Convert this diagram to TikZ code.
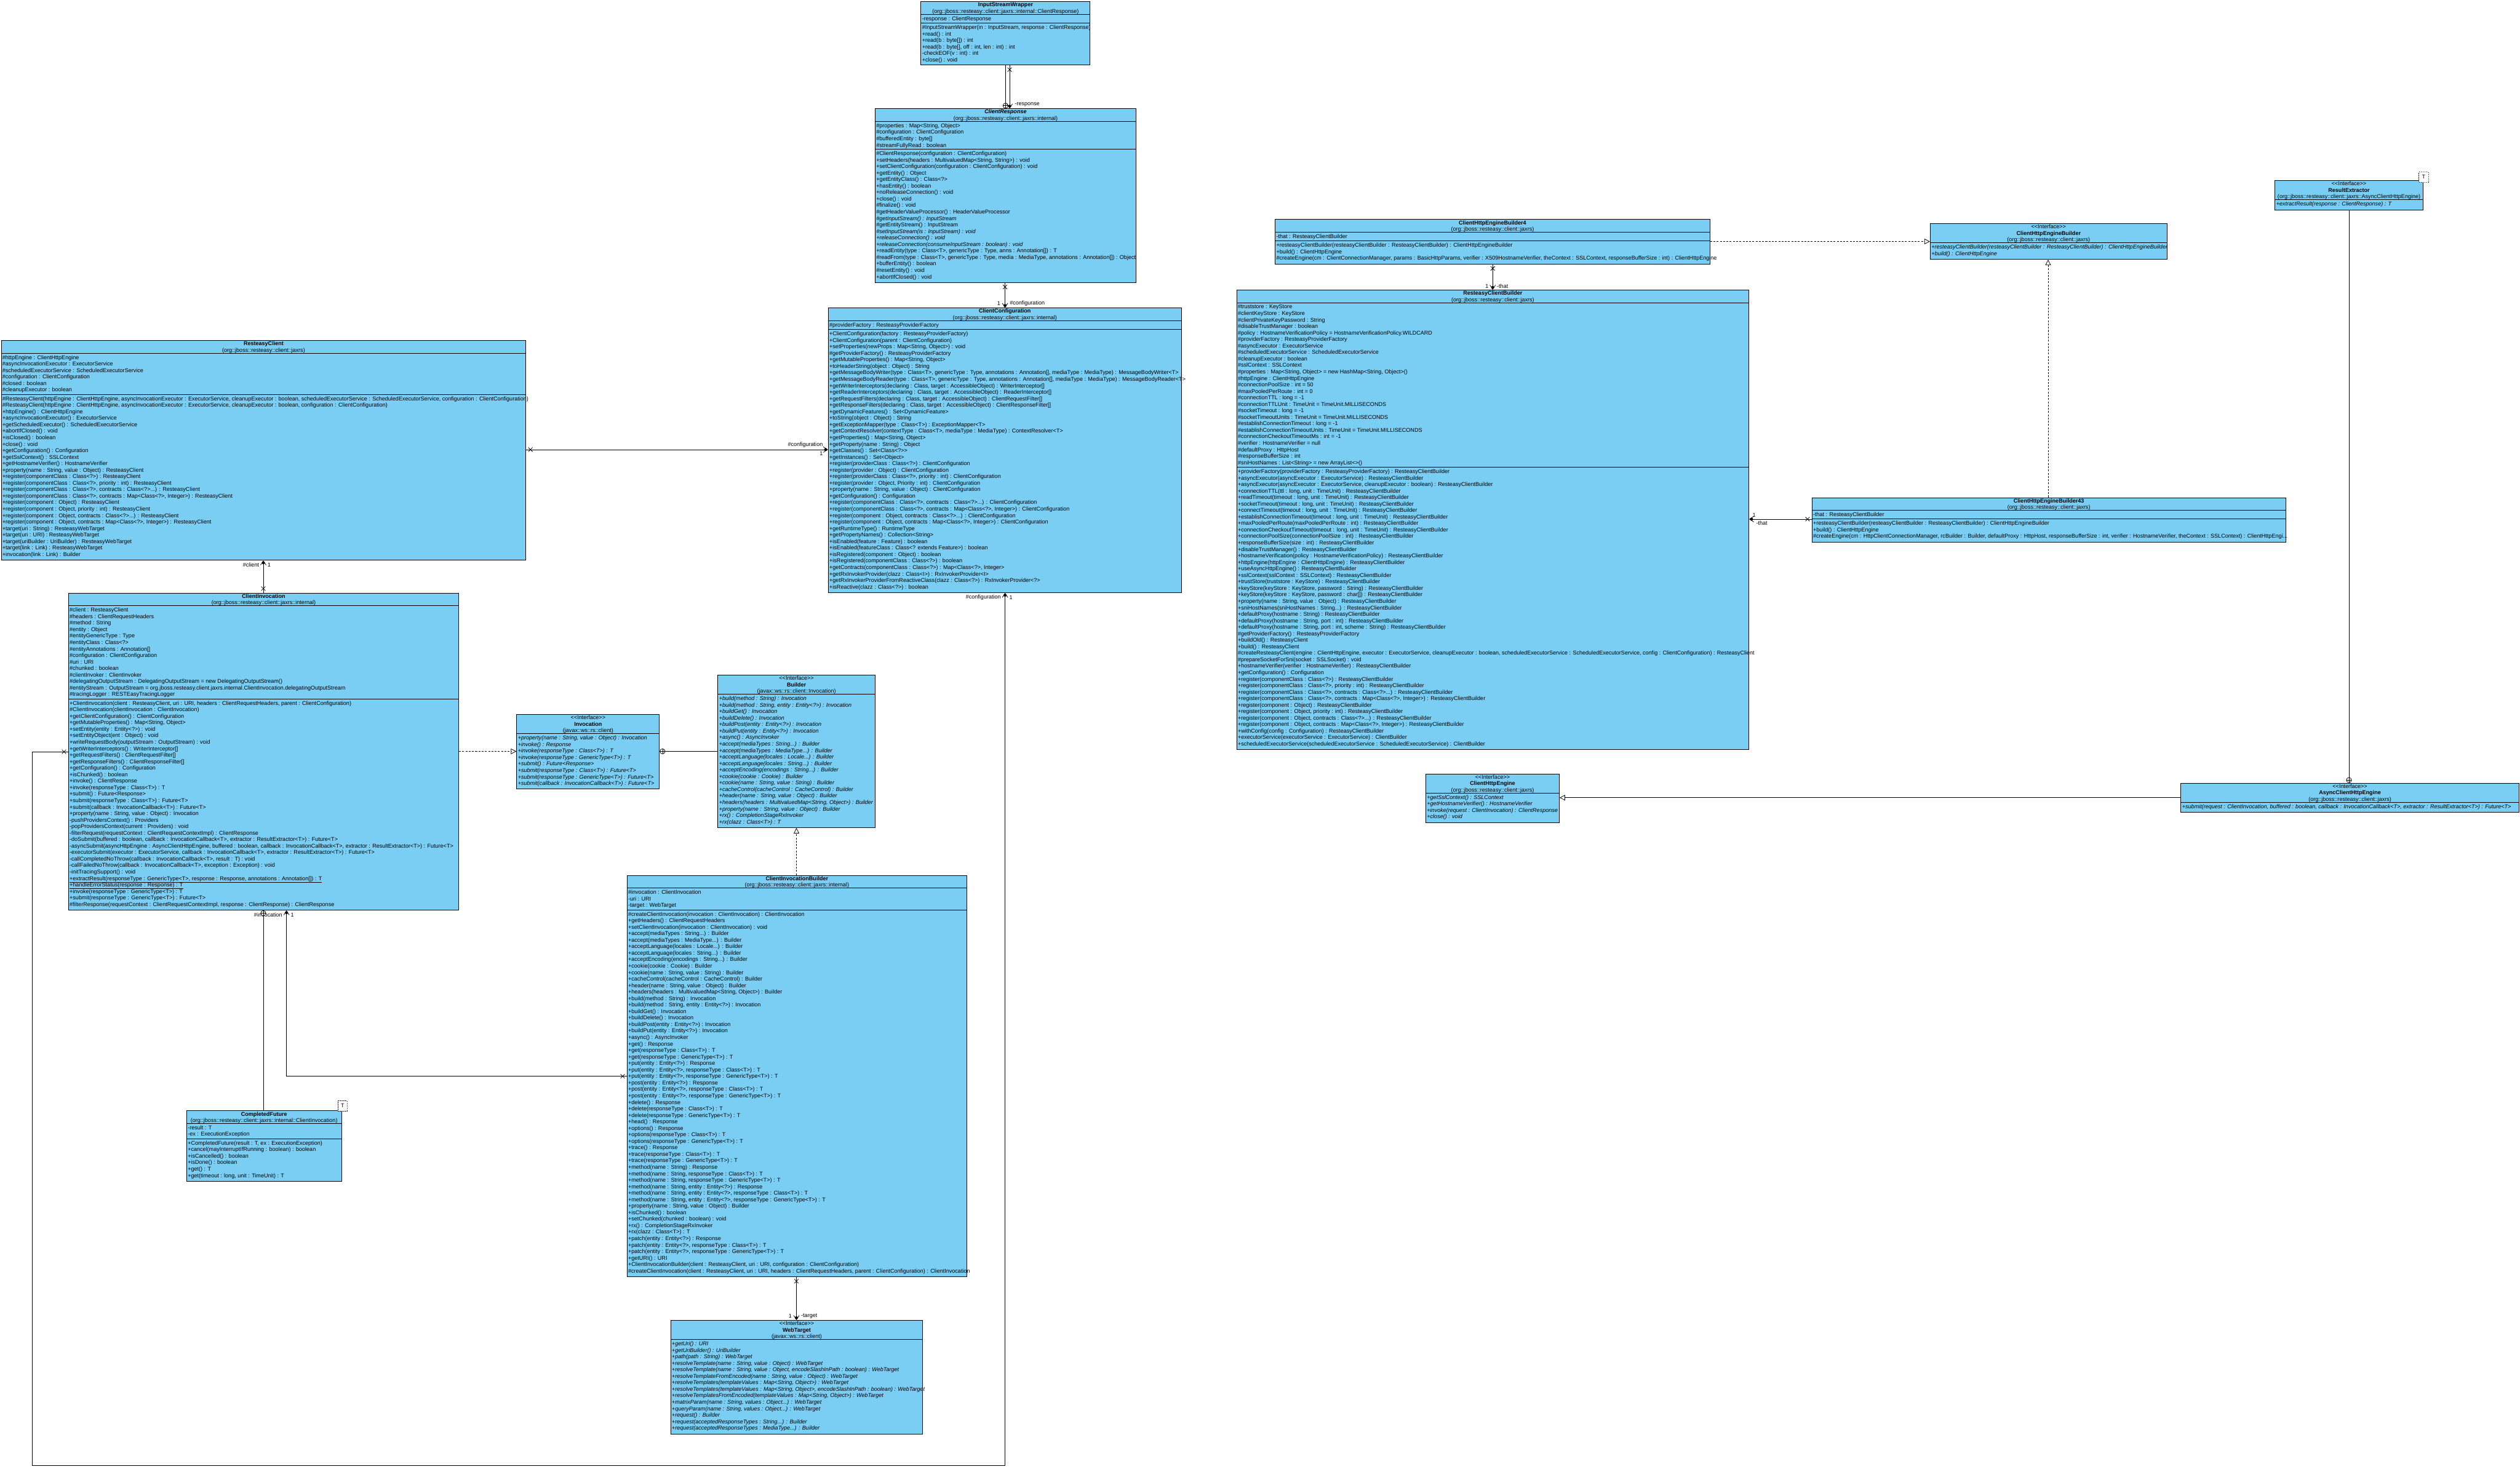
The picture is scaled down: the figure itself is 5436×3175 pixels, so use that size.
\documentclass[tikz,border=0pt]{standalone}
\usepackage{fontspec}
\newfontfamily\umlfont{Liberation Sans}
\usetikzlibrary{arrows.meta,calc}
\definecolor{umlblue}{RGB}{122,206,244}
\newcommand\umltxt{\umlfont\fontsize{12}{14}\selectfont}
\tikzset{
  cls/.style={draw=black, line width=1.2pt, fill=umlblue, inner sep=0pt, anchor=north west},
  assoc/.style={draw=black, line width=1pt},
  navarrow/.style={-{Straight Barb[length=9pt,width=12pt]}},
  realize/.style={dash pattern=on 4pt off 3pt, -{Triangle[open,length=12pt,width=12pt]}},
  generalize/.style={-{Triangle[open,length=12pt,width=12pt]}},
  lbl/.style={font=\umltxt, inner sep=1pt},
  pics/nestplus/.style={code={\draw[fill=white,line width=1pt] (0,0) circle (5.5pt); \draw[line width=1pt] (-5.5,0)--(5.5,0) (0,-5.5)--(0,5.5);}},
  pics/xmark/.style={code={\draw[line width=1pt] (-4.5,-4.5)--(4.5,4.5) (-4.5,4.5)--(4.5,-4.5);}},
  pics/owndot/.style={code={\fill (0,0) circle (3.2pt);}},
}
\newcommand\umlbox[5]{\node[cls, minimum width=#4pt, minimum height=#5pt] (#1) at (#2,#3) {};}
\newcommand\umlsep[2]{\draw[line width=1.2pt] ($(#1.north west)+(0,#2)$) -- ($(#1.north east)+(0,#2)$);}
\newcommand\umlhead[2]{\node[anchor=north, inner sep=0pt, align=center, font=\umltxt] (#1h) at ($(#1.north)+(0,1.3)$) {\rule{0pt}{10pt}#2};}
\newcommand\umltext[4]{\node[anchor=north west, inner sep=0pt, align=left, font=\umltxt] (#1#4) at ($(#1.north west)+(3,#2+3)$) {\rule{0pt}{10pt}#3};}
\newcommand\umltextit[4]{\node[anchor=north west, inner sep=0pt, align=left, font=\umltxt\itshape] (#1#4) at ($(#1.north west)+(3,#2+3)$) {\rule{0pt}{10pt}#3};}
\begin{document}
\begin{tikzpicture}[x=1pt,y=-1pt]
\fill[white] (0,0) rectangle (5436,3175);
\useasboundingbox (0,0) rectangle (5436,3175);

% ---------- InputStreamWrapper
\umlbox{isw}{1986}{3}{365}{137}
\umlsep{isw}{28}\umlsep{isw}{47}
\umlhead{isw}{\textbf{InputStreamWrapper}\\(org::jboss::resteasy::client::jaxrs::internal::ClientResponse)}
\umltext{isw}{28}{-response : ClientResponse}{a}
\umltext{isw}{47}{\#InputStreamWrapper(in : InputStream, response : ClientResponse)\\
+read() : int\\
+read(b : byte[]) : int\\
+read(b : byte[], off : int, len : int) : int\\
-checkEOF(v : int) : int\\
+close() : void}{m}

% ---------- ClientResponse
\umlbox{cr}{1887}{234}{563}{375}
\umlsep{cr}{28}\umlsep{cr}{88}
\umlhead{cr}{\textbf{\textit{ClientResponse}}\\(org::jboss::resteasy::client::jaxrs::internal)}
\umltext{cr}{28}{\#properties : Map<String, Object>\\
\#configuration : ClientConfiguration\\
\#bufferedEntity : byte[]\\
\#streamFullyRead : boolean}{a}
\umltext{cr}{88}{\#ClientResponse(configuration : ClientConfiguration)\\
+setHeaders(headers : MultivaluedMap<String, String>) : void\\
+setClientConfiguration(configuration : ClientConfiguration) : void\\
+getEntity() : Object\\
+getEntityClass() : Class<?>\\
+hasEntity() : boolean\\
+noReleaseConnection() : void\\
+close() : void\\
\#finalize() : void\\
\#getHeaderValueProcessor() : HeaderValueProcessor\\
\textit{\#getInputStream() : InputStream}\\
\#getEntityStream() : InputStream\\
\textit{\#setInputStream(is : InputStream) : void}\\
\textit{+releaseConnection() : void}\\
\textit{+releaseConnection(consumeInputStream : boolean) : void}\\
+readEntity(type : Class<T>, genericType : Type, anns : Annotation[]) : T\\
\#readFrom(type : Class<T>, genericType : Type, media : MediaType, annotations : Annotation[]) : Object\\
+bufferEntity() : boolean\\
\#resetEntity() : void\\
+abortIfClosed() : void}{m}

% ---------- ClientConfiguration
\umlbox{cc}{1786}{664}{762}{614}
\umlsep{cc}{28}\umlsep{cc}{47}
\umlhead{cc}{\textbf{ClientConfiguration}\\(org::jboss::resteasy::client::jaxrs::internal)}
\umltext{cc}{28}{\#providerFactory : ResteasyProviderFactory}{a}
\umltext{cc}{47}{+ClientConfiguration(factory : ResteasyProviderFactory)\\
+ClientConfiguration(parent : ClientConfiguration)\\
+setProperties(newProps : Map<String, Object>) : void\\
\#getProviderFactory() : ResteasyProviderFactory\\
+getMutableProperties() : Map<String, Object>\\
+toHeaderString(object : Object) : String\\
+getMessageBodyWriter(type : Class<T>, genericType : Type, annotations : Annotation[], mediaType : MediaType) : MessageBodyWriter<T>\\
+getMessageBodyReader(type : Class<T>, genericType : Type, annotations : Annotation[], mediaType : MediaType) : MessageBodyReader<T>\\
+getWriterInterceptors(declaring : Class, target : AccessibleObject) : WriterInterceptor[]\\
+getReaderInterceptors(declaring : Class, target : AccessibleObject) : ReaderInterceptor[]\\
+getRequestFilters(declaring : Class, target : AccessibleObject) : ClientRequestFilter[]\\
+getResponseFilters(declaring : Class, target : AccessibleObject) : ClientResponseFilter[]\\
+getDynamicFeatures() : Set<DynamicFeature>\\
+toString(object : Object) : String\\
+getExceptionMapper(type : Class<T>) : ExceptionMapper<T>\\
+getContextResolver(contextType : Class<T>, mediaType : MediaType) : ContextResolver<T>\\
+getProperties() : Map<String, Object>\\
+getProperty(name : String) : Object\\
+getClasses() : Set<Class<?>>\\
+getInstances() : Set<Object>\\
+register(providerClass : Class<?>) : ClientConfiguration\\
+register(provider : Object) : ClientConfiguration\\
+register(providerClass : Class<?>, priority : int) : ClientConfiguration\\
+register(provider : Object, Priority : int) : ClientConfiguration\\
+property(name : String, value : Object) : ClientConfiguration\\
+getConfiguration() : Configuration\\
+register(componentClass : Class<?>, contracts : Class<?>...) : ClientConfiguration\\
+register(componentClass : Class<?>, contracts : Map<Class<?>, Integer>) : ClientConfiguration\\
+register(component : Object, contracts : Class<?>...) : ClientConfiguration\\
+register(component : Object, contracts : Map<Class<?>, Integer>) : ClientConfiguration\\
+getRuntimeType() : RuntimeType\\
+getPropertyNames() : Collection<String>\\
+isEnabled(feature : Feature) : boolean\\
+isEnabled(featureClass : Class<? extends Feature>) : boolean\\
+isRegistered(component : Object) : boolean\\
+isRegistered(componentClass : Class<?>) : boolean\\
+getContracts(componentClass : Class<?>) : Map<Class<?>, Integer>\\
+getRxInvokerProvider(clazz : Class<I>) : RxInvokerProvider<I>\\
+getRxInvokerProviderFromReactiveClass(clazz : Class<?>) : RxInvokerProvider<?>\\
+isReactive(clazz : Class<?>) : boolean}{m}

% ---------- ResteasyClient
\umlbox{rc}{2}{734}{1132}{474}
\umlsep{rc}{28}\umlsep{rc}{117}
\umlhead{rc}{\textbf{ResteasyClient}\\(org::jboss::resteasy::client::jaxrs)}
\umltext{rc}{28}{\#httpEngine : ClientHttpEngine\\
\#asyncInvocationExecutor : ExecutorService\\
\#scheduledExecutorService : ScheduledExecutorService\\
\#configuration : ClientConfiguration\\
\#closed : boolean\\
\#cleanupExecutor : boolean}{a}
\umltext{rc}{117}{\#ResteasyClient(httpEngine : ClientHttpEngine, asyncInvocationExecutor : ExecutorService, cleanupExecutor : boolean, scheduledExecutorService : ScheduledExecutorService, configuration : ClientConfiguration)\\
\#ResteasyClient(httpEngine : ClientHttpEngine, asyncInvocationExecutor : ExecutorService, cleanupExecutor : boolean, configuration : ClientConfiguration)\\
+httpEngine() : ClientHttpEngine\\
+asyncInvocationExecutor() : ExecutorService\\
+getScheduledExecutor() : ScheduledExecutorService\\
+abortIfClosed() : void\\
+isClosed() : boolean\\
+close() : void\\
+getConfiguration() : Configuration\\
+getSslContext() : SSLContext\\
+getHostnameVerifier() : HostnameVerifier\\
+property(name : String, value : Object) : ResteasyClient\\
+register(componentClass : Class<?>) : ResteasyClient\\
+register(componentClass : Class<?>, priority : int) : ResteasyClient\\
+register(componentClass : Class<?>, contracts : Class<?>...) : ResteasyClient\\
+register(componentClass : Class<?>, contracts : Map<Class<?>, Integer>) : ResteasyClient\\
+register(component : Object) : ResteasyClient\\
+register(component : Object, priority : int) : ResteasyClient\\
+register(component : Object, contracts : Class<?>...) : ResteasyClient\\
+register(component : Object, contracts : Map<Class<?>, Integer>) : ResteasyClient\\
+target(uri : String) : ResteasyWebTarget\\
+target(uri : URI) : ResteasyWebTarget\\
+target(uriBuilder : UriBuilder) : ResteasyWebTarget\\
+target(link : Link) : ResteasyWebTarget\\
+invocation(link : Link) : Builder}{m}

% ---------- ClientInvocation
\umlbox{ci}{147}{1279}{842}{684}
\umlsep{ci}{28}\umlsep{ci}{229}
\umlhead{ci}{\textbf{ClientInvocation}\\(org::jboss::resteasy::client::jaxrs::internal)}
\umltext{ci}{28}{\#client : ResteasyClient\\
\#headers : ClientRequestHeaders\\
\#method : String\\
\#entity : Object\\
\#entityGenericType : Type\\
\#entityClass : Class<?>\\
\#entityAnnotations : Annotation[]\\
\#configuration : ClientConfiguration\\
\#uri : URI\\
\#chunked : boolean\\
\#clientInvoker : ClientInvoker\\
\#delegatingOutputStream : DelegatingOutputStream = new DelegatingOutputStream()\\
\#entityStream : OutputStream = org.jboss.resteasy.client.jaxrs.internal.ClientInvocation.delegatingOutputStream\\
\#tracingLogger : RESTEasyTracingLogger}{a}
\umltext{ci}{229}{+ClientInvocation(client : ResteasyClient, uri : URI, headers : ClientRequestHeaders, parent : ClientConfiguration)\\
\#ClientInvocation(clientInvocation : ClientInvocation)\\
+getClientConfiguration() : ClientConfiguration\\
+getMutableProperties() : Map<String, Object>\\
+setEntity(entity : Entity<?>) : void\\
+setEntityObject(ent : Object) : void\\
+writeRequestBody(outputStream : OutputStream) : void\\
+getWriterInterceptors() : WriterInterceptor[]\\
+getRequestFilters() : ClientRequestFilter[]\\
+getResponseFilters() : ClientResponseFilter[]\\
+getConfiguration() : Configuration\\
+isChunked() : boolean\\
+invoke() : ClientResponse\\
+invoke(responseType : Class<T>) : T\\
+submit() : Future<Response>\\
+submit(responseType : Class<T>) : Future<T>\\
+submit(callback : InvocationCallback<T>) : Future<T>\\
+property(name : String, value : Object) : Invocation\\
-pushProvidersContext() : Providers\\
-popProvidersContext(current : Providers) : void\\
-filterRequest(requestContext : ClientRequestContextImpl) : ClientResponse\\
-doSubmit(buffered : boolean, callback : InvocationCallback<T>, extractor : ResultExtractor<T>) : Future<T>\\
-asyncSubmit(asyncHttpEngine : AsyncClientHttpEngine, buffered : boolean, callback : InvocationCallback<T>, extractor : ResultExtractor<T>) : Future<T>\\
-executorSubmit(executor : ExecutorService, callback : InvocationCallback<T>, extractor : ResultExtractor<T>) : Future<T>\\
-callCompletedNoThrow(callback : InvocationCallback<T>, result : T) : void\\
-callFailedNoThrow(callback : InvocationCallback<T>, exception : Exception) : void\\
-initTracingSupport() : void\\
\underline{+extractResult(responseType : GenericType<T>, response : Response, annotations : Annotation[]) : T}\\
\underline{+handleErrorStatus(response : Response) : T}\\
+invoke(responseType : GenericType<T>) : T\\
+submit(responseType : GenericType<T>) : Future<T>\\
\#filterResponse(requestContext : ClientRequestContextImpl, response : ClientResponse) : ClientResponse}{m}

% ---------- Invocation
\umlbox{inv}{1114}{1541}{308}{161}
\umlsep{inv}{42}
\umlhead{inv}{<{}<Interface>{}>\\\textbf{Invocation}\\(javax::ws::rs::client)}
\umltextit{inv}{42}{+property(name : String, value : Object) : Invocation\\
+invoke() : Response\\
+invoke(responseType : Class<T>) : T\\
+invoke(responseType : GenericType<T>) : T\\
+submit() : Future<Response>\\
+submit(responseType : Class<T>) : Future<T>\\
+submit(responseType : GenericType<T>) : Future<T>\\
+submit(callback : InvocationCallback<T>) : Future<T>}{m}

% ---------- Builder
\umlbox{bld}{1548}{1456}{339}{329}
\umlsep{bld}{42}
\umlhead{bld}{<{}<Interface>{}>\\\textbf{Builder}\\(javax::ws::rs::client::Invocation)}
\umltextit{bld}{42}{+build(method : String) : Invocation\\
+build(method : String, entity : Entity<?>) : Invocation\\
+buildGet() : Invocation\\
+buildDelete() : Invocation\\
+buildPost(entity : Entity<?>) : Invocation\\
+buildPut(entity : Entity<?>) : Invocation\\
+async() : AsyncInvoker\\
+accept(mediaTypes : String...) : Builder\\
+accept(mediaTypes : MediaType...) : Builder\\
+acceptLanguage(locales : Locale...) : Builder\\
+acceptLanguage(locales : String...) : Builder\\
+acceptEncoding(encodings : String...) : Builder\\
+cookie(cookie : Cookie) : Builder\\
+cookie(name : String, value : String) : Builder\\
+cacheControl(cacheControl : CacheControl) : Builder\\
+header(name : String, value : Object) : Builder\\
+headers(headers : MultivaluedMap<String, Object>) : Builder\\
+property(name : String, value : Object) : Builder\\
+rx() : CompletionStageRxInvoker\\
+rx(clazz : Class<T>) : T}{m}

% ---------- ClientInvocationBuilder
\umlbox{cib}{1352}{1888}{733}{866}
\umlsep{cib}{28}\umlsep{cib}{75}
\umlhead{cib}{\textbf{ClientInvocationBuilder}\\(org::jboss::resteasy::client::jaxrs::internal)}
\umltext{cib}{28}{\#invocation : ClientInvocation\\
-uri : URI\\
-target : WebTarget}{a}
\umltext{cib}{75}{\#createClientInvocation(invocation : ClientInvocation) : ClientInvocation\\
+getHeaders() : ClientRequestHeaders\\
+setClientInvocation(invocation : ClientInvocation) : void\\
+accept(mediaTypes : String...) : Builder\\
+accept(mediaTypes : MediaType...) : Builder\\
+acceptLanguage(locales : Locale...) : Builder\\
+acceptLanguage(locales : String...) : Builder\\
+acceptEncoding(encodings : String...) : Builder\\
+cookie(cookie : Cookie) : Builder\\
+cookie(name : String, value : String) : Builder\\
+cacheControl(cacheControl : CacheControl) : Builder\\
+header(name : String, value : Object) : Builder\\
+headers(headers : MultivaluedMap<String, Object>) : Builder\\
+build(method : String) : Invocation\\
+build(method : String, entity : Entity<?>) : Invocation\\
+buildGet() : Invocation\\
+buildDelete() : Invocation\\
+buildPost(entity : Entity<?>) : Invocation\\
+buildPut(entity : Entity<?>) : Invocation\\
+async() : AsyncInvoker\\
+get() : Response\\
+get(responseType : Class<T>) : T\\
+get(responseType : GenericType<T>) : T\\
+put(entity : Entity<?>) : Response\\
+put(entity : Entity<?>, responseType : Class<T>) : T\\
+put(entity : Entity<?>, responseType : GenericType<T>) : T\\
+post(entity : Entity<?>) : Response\\
+post(entity : Entity<?>, responseType : Class<T>) : T\\
+post(entity : Entity<?>, responseType : GenericType<T>) : T\\
+delete() : Response\\
+delete(responseType : Class<T>) : T\\
+delete(responseType : GenericType<T>) : T\\
+head() : Response\\
+options() : Response\\
+options(responseType : Class<T>) : T\\
+options(responseType : GenericType<T>) : T\\
+trace() : Response\\
+trace(responseType : Class<T>) : T\\
+trace(responseType : GenericType<T>) : T\\
+method(name : String) : Response\\
+method(name : String, responseType : Class<T>) : T\\
+method(name : String, responseType : GenericType<T>) : T\\
+method(name : String, entity : Entity<?>) : Response\\
+method(name : String, entity : Entity<?>, responseType : Class<T>) : T\\
+method(name : String, entity : Entity<?>, responseType : GenericType<T>) : T\\
+property(name : String, value : Object) : Builder\\
+isChunked() : boolean\\
+setChunked(chunked : boolean) : void\\
+rx() : CompletionStageRxInvoker\\
+rx(clazz : Class<T>) : T\\
+patch(entity : Entity<?>) : Response\\
+patch(entity : Entity<?>, responseType : Class<T>) : T\\
+patch(entity : Entity<?>, responseType : GenericType<T>) : T\\
+getURI() : URI\\
+ClientInvocationBuilder(client : ResteasyClient, uri : URI, configuration : ClientConfiguration)\\
\#createClientInvocation(client : ResteasyClient, uri : URI, headers : ClientRequestHeaders, parent : ClientConfiguration) : ClientInvocation}{m}

% ---------- WebTarget
\umlbox{wt}{1446}{2848}{544}{245}
\umlsep{wt}{42}
\umlhead{wt}{<{}<Interface>{}>\\\textbf{WebTarget}\\(javax::ws::rs::client)}
\umltextit{wt}{42}{+getUri() : URI\\
+getUriBuilder() : UriBuilder\\
+path(path : String) : WebTarget\\
+resolveTemplate(name : String, value : Object) : WebTarget\\
+resolveTemplate(name : String, value : Object, encodeSlashInPath : boolean) : WebTarget\\
+resolveTemplateFromEncoded(name : String, value : Object) : WebTarget\\
+resolveTemplates(templateValues : Map<String, Object>) : WebTarget\\
+resolveTemplates(templateValues : Map<String, Object>, encodeSlashInPath : boolean) : WebTarget\\
+resolveTemplatesFromEncoded(templateValues : Map<String, Object>) : WebTarget\\
+matrixParam(name : String, values : Object...) : WebTarget\\
+queryParam(name : String, values : Object...) : WebTarget\\
+request() : Builder\\
+request(acceptedResponseTypes : String...) : Builder\\
+request(acceptedResponseTypes : MediaType...) : Builder}{m}

% ---------- CompletedFuture
\umlbox{cf}{402}{2396}{334}{152}
\umlsep{cf}{28}\umlsep{cf}{61}
\umlhead{cf}{\textbf{CompletedFuture}\\(org::jboss::resteasy::client::jaxrs::internal::ClientInvocation)}
\umltext{cf}{28}{-result : T\\
-ex : ExecutionException}{a}
\umltext{cf}{61}{+CompletedFuture(result : T, ex : ExecutionException)\\
+cancel(mayInterruptIfRunning : boolean) : boolean\\
+isCancelled() : boolean\\
+isDone() : boolean\\
+get() : T\\
+get(timeout : long, unit : TimeUnit) : T}{m}
\node[draw, dash pattern=on 2pt off 2pt, fill=white, line width=0.8pt, minimum width=20pt, minimum height=22pt, inner sep=0pt, font=\umltxt] (cftpl) at (739,2386) {T};

% ---------- ClientHttpEngineBuilder4
\umlbox{cheb4}{2750}{473}{938}{96}
\umlsep{cheb4}{28}\umlsep{cheb4}{47}
\umlhead{cheb4}{\textbf{ClientHttpEngineBuilder4}\\(org::jboss::resteasy::client::jaxrs)}
\umltext{cheb4}{28}{-that : ResteasyClientBuilder}{a}
\umltext{cheb4}{47}{+resteasyClientBuilder(resteasyClientBuilder : ResteasyClientBuilder) : ClientHttpEngineBuilder\\
+build() : ClientHttpEngine\\
\#createEngine(cm : ClientConnectionManager, params : BasicHttpParams, verifier : X509HostnameVerifier, theContext : SSLContext, responseBufferSize : int) : ClientHttpEngine}{m}

% ---------- ClientHttpEngineBuilder (interface)
\umlbox{cheb}{4163}{482}{511}{77}
\umlsep{cheb}{42}
\umlhead{cheb}{<{}<Interface>{}>\\\textbf{ClientHttpEngineBuilder}\\(org::jboss::resteasy::client::jaxrs)}
\umltextit{cheb}{42}{+resteasyClientBuilder(resteasyClientBuilder : ResteasyClientBuilder) : ClientHttpEngineBuilder\\
+build() : ClientHttpEngine}{m}

% ---------- ResultExtractor
\umlbox{re}{4907}{389}{319}{63}
\umlsep{re}{42}
\umlhead{re}{<{}<Interface>{}>\\\textbf{ResultExtractor}\\(org::jboss::resteasy::client::jaxrs::AsyncClientHttpEngine)}
\umltextit{re}{42}{+extractResult(response : ClientResponse) : T}{m}
\node[draw, dash pattern=on 2pt off 2pt, fill=white, line width=0.8pt, minimum width=20pt, minimum height=22pt, inner sep=0pt, font=\umltxt] (retpl) at (5228,382) {T};

% ---------- ResteasyClientBuilder
\umlbox{rcb}{2667}{625}{1105}{992}
\umlsep{rcb}{28}\umlsep{rcb}{383}
\umlhead{rcb}{\textbf{ResteasyClientBuilder}\\(org::jboss::resteasy::client::jaxrs)}
\umltext{rcb}{28}{\#truststore : KeyStore\\
\#clientKeyStore : KeyStore\\
\#clientPrivateKeyPassword : String\\
\#disableTrustManager : boolean\\
\#policy : HostnameVerificationPolicy = HostnameVerificationPolicy.WILDCARD\\
\#providerFactory : ResteasyProviderFactory\\
\#asyncExecutor : ExecutorService\\
\#scheduledExecutorService : ScheduledExecutorService\\
\#cleanupExecutor : boolean\\
\#sslContext : SSLContext\\
\#properties : Map<String, Object> = new HashMap<String, Object>()\\
\#httpEngine : ClientHttpEngine\\
\#connectionPoolSize : int = 50\\
\#maxPooledPerRoute : int = 0\\
\#connectionTTL : long = -1\\
\#connectionTTLUnit : TimeUnit = TimeUnit.MILLISECONDS\\
\#socketTimeout : long = -1\\
\#socketTimeoutUnits : TimeUnit = TimeUnit.MILLISECONDS\\
\#establishConnectionTimeout : long = -1\\
\#establishConnectionTimeoutUnits : TimeUnit = TimeUnit.MILLISECONDS\\
\#connectionCheckoutTimeoutMs : int = -1\\
\#verifier : HostnameVerifier = null\\
\#defaultProxy : HttpHost\\
\#responseBufferSize : int\\
\#sniHostNames : List<String> = new ArrayList<>()}{a}
\umltext{rcb}{383}{+providerFactory(providerFactory : ResteasyProviderFactory) : ResteasyClientBuilder\\
+asyncExecutor(asyncExecutor : ExecutorService) : ResteasyClientBuilder\\
+asyncExecutor(asyncExecutor : ExecutorService, cleanupExecutor : boolean) : ResteasyClientBuilder\\
+connectionTTL(ttl : long, unit : TimeUnit) : ResteasyClientBuilder\\
+readTimeout(timeout : long, unit : TimeUnit) : ResteasyClientBuilder\\
+socketTimeout(timeout : long, unit : TimeUnit) : ResteasyClientBuilder\\
+connectTimeout(timeout : long, unit : TimeUnit) : ResteasyClientBuilder\\
+establishConnectionTimeout(timeout : long, unit : TimeUnit) : ResteasyClientBuilder\\
+maxPooledPerRoute(maxPooledPerRoute : int) : ResteasyClientBuilder\\
+connectionCheckoutTimeout(timeout : long, unit : TimeUnit) : ResteasyClientBuilder\\
+connectionPoolSize(connectionPoolSize : int) : ResteasyClientBuilder\\
+responseBufferSize(size : int) : ResteasyClientBuilder\\
+disableTrustManager() : ResteasyClientBuilder\\
+hostnameVerification(policy : HostnameVerificationPolicy) : ResteasyClientBuilder\\
+httpEngine(httpEngine : ClientHttpEngine) : ResteasyClientBuilder\\
+useAsyncHttpEngine() : ResteasyClientBuilder\\
+sslContext(sslContext : SSLContext) : ResteasyClientBuilder\\
+trustStore(truststore : KeyStore) : ResteasyClientBuilder\\
+keyStore(keyStore : KeyStore, password : String) : ResteasyClientBuilder\\
+keyStore(keyStore : KeyStore, password : char[]) : ResteasyClientBuilder\\
+property(name : String, value : Object) : ResteasyClientBuilder\\
+sniHostNames(sniHostNames : String...) : ResteasyClientBuilder\\
+defaultProxy(hostname : String) : ResteasyClientBuilder\\
+defaultProxy(hostname : String, port : int) : ResteasyClientBuilder\\
+defaultProxy(hostname : String, port : int, scheme : String) : ResteasyClientBuilder\\
\#getProviderFactory() : ResteasyProviderFactory\\
+buildOld() : ResteasyClient\\
+build() : ResteasyClient\\
\#createResteasyClient(engine : ClientHttpEngine, executor : ExecutorService, cleanupExecutor : boolean, scheduledExecutorService : ScheduledExecutorService, config : ClientConfiguration) : ResteasyClient\\
\#prepareSocketForSni(socket : SSLSocket) : void\\
+hostnameVerifier(verifier : HostnameVerifier) : ResteasyClientBuilder\\
+getConfiguration() : Configuration\\
+register(componentClass : Class<?>) : ResteasyClientBuilder\\
+register(componentClass : Class<?>, priority : int) : ResteasyClientBuilder\\
+register(componentClass : Class<?>, contracts : Class<?>...) : ResteasyClientBuilder\\
+register(componentClass : Class<?>, contracts : Map<Class<?>, Integer>) : ResteasyClientBuilder\\
+register(component : Object) : ResteasyClientBuilder\\
+register(component : Object, priority : int) : ResteasyClientBuilder\\
+register(component : Object, contracts : Class<?>...) : ResteasyClientBuilder\\
+register(component : Object, contracts : Map<Class<?>, Integer>) : ResteasyClientBuilder\\
+withConfig(config : Configuration) : ResteasyClientBuilder\\
+executorService(executorService : ExecutorService) : ClientBuilder\\
+scheduledExecutorService(scheduledExecutorService : ScheduledExecutorService) : ClientBuilder}{m}

% ---------- ClientHttpEngineBuilder43
\umlbox{cheb43}{3908}{1073}{1022}{96}
\umlsep{cheb43}{28}\umlsep{cheb43}{47}
\umlhead{cheb43}{\textbf{ClientHttpEngineBuilder43}\\(org::jboss::resteasy::client::jaxrs)}
\umltext{cheb43}{28}{-that : ResteasyClientBuilder}{a}
\umltext{cheb43}{47}{+resteasyClientBuilder(resteasyClientBuilder : ResteasyClientBuilder) : ClientHttpEngineBuilder\\
+build() : ClientHttpEngine\\
\#createEngine(cm : HttpClientConnectionManager, rcBuilder : Builder, defaultProxy : HttpHost, responseBufferSize : int, verifier : HostnameVerifier, theContext : SSLContext) : ClientHttpEngi...}{m}

% ---------- ClientHttpEngine
\umlbox{che}{3075}{1669}{288}{105}
\umlsep{che}{42}
\umlhead{che}{<{}<Interface>{}>\\\textbf{ClientHttpEngine}\\(org::jboss::resteasy::client::jaxrs)}
\umltextit{che}{42}{+getSslContext() : SSLContext\\
+getHostnameVerifier() : HostnameVerifier\\
+invoke(request : ClientInvocation) : ClientResponse\\
+close() : void}{m}

% ---------- AsyncClientHttpEngine
\umlbox{async}{4704}{1689}{729}{63}
\umlsep{async}{42}
\umlhead{async}{<{}<Interface>{}>\\\textbf{AsyncClientHttpEngine}\\(org::jboss::resteasy::client::jaxrs)}
\umltextit{async}{42}{+submit(request : ClientInvocation, buffered : boolean, callback : InvocationCallback<T>, extractor : ResultExtractor<T>) : Future<T>}{m}

% ================= connectors
\coordinate (vA) at (2169,0);
\coordinate (vB) at (2178,0);
\coordinate (vC) at (2168,0);
\coordinate (vD) at (568,0);
\coordinate (vE) at (69,0);
\coordinate (vF) at (1718,0);
\coordinate (vG) at (618,0);
\coordinate (vH) at (3220,0);
\coordinate (vI) at (4418,0);
\coordinate (vJ) at (5067,0);
\coordinate (hA) at (0,970);
\coordinate (hB) at (0,3162);
\coordinate (hC) at (0,1622);
\coordinate (hD) at (0,1621);
\coordinate (hE) at (0,2322);
\coordinate (hF) at (0,1120);
\coordinate (hG) at (0,521);
\coordinate (hH) at (0,1721);

% InputStreamWrapper nested in ClientResponse
\draw[assoc] (isw.south -| vA) -- (cr.north -| vA);
\pic at ($(cr.north -| vA)+(0,-6)$) {nestplus};
% InputStreamWrapper -response
\draw[assoc,navarrow] (isw.south -| vB) -- (cr.north -| vB);
\pic at ($(isw.south -| vB)+(0,9)$) {xmark};
\pic at ($(cr.north -| vB)+(0,-5)$) {owndot};
\node[lbl, anchor=west] (l1) at ($(cr.north -| vB)+(10,-9)$) {-response};

% ClientResponse #configuration
\draw[assoc,navarrow] (cr.south -| vC) -- (cc.north -| vC);
\pic at ($(cr.south -| vC)+(0,9)$) {xmark};
\pic at ($(cc.north -| vC)+(0,-5)$) {owndot};
\node[lbl, anchor=east] (l2) at ($(cc.north -| vC)+(-9,-9)$) {1};
\node[lbl, anchor=west] (l3) at ($(cc.north -| vC)+(9,-9)$) {\#configuration};

% ResteasyClient #configuration
\draw[assoc,navarrow] (rc.east |- hA) -- (cc.west |- hA);
\pic at ($(rc.east |- hA)+(9,0)$) {xmark};
\pic at ($(cc.west |- hA)+(-5,0)$) {owndot};
\node[lbl, anchor=south east] (l4) at ($(cc.west |- hA)+(-10,-3)$) {\#configuration};
\node[lbl, anchor=north east] (l5) at ($(cc.west |- hA)+(-10,3)$) {1};

% ClientInvocation #client
\draw[assoc,navarrow] (ci.north -| vD) -- (rc.south -| vD);
\pic at ($(ci.north -| vD)+(0,-9)$) {xmark};
\pic at ($(rc.south -| vD)+(0,5)$) {owndot};
\node[lbl, anchor=east] (l6) at ($(rc.south -| vD)+(-8,10)$) {\#client};
\node[lbl, anchor=west] (l7) at ($(rc.south -| vD)+(8,10)$) {1};

% ClientInvocation #configuration (long route)
\draw[assoc,navarrow] (ci.west |- hC) -- (vE |- hC) -- (vE |- hB) -- (vC |- hB) -- (cc.south -| vC);
\pic at ($(ci.west |- hC)+(-9,0)$) {xmark};
\pic at ($(cc.south -| vC)+(0,5)$) {owndot};
\node[lbl, anchor=east] (l8) at ($(cc.south -| vC)+(-8,10)$) {\#configuration};
\node[lbl, anchor=west] (l9) at ($(cc.south -| vC)+(8,10)$) {1};

% ClientInvocation realizes Invocation
\draw[assoc,realize] (ci.east |- hD) -- (inv.west |- hD);
% Builder nested in Invocation
\draw[assoc] (bld.west |- hD) -- (inv.east |- hD);
\pic at ($(inv.east |- hD)+(6,0)$) {nestplus};

% ClientInvocationBuilder realizes Builder
\draw[assoc,realize] (cib.north -| vF) -- (bld.south -| vF);
% ClientInvocationBuilder -target
\draw[assoc,navarrow] (cib.south -| vF) -- (wt.north -| vF);
\pic at ($(cib.south -| vF)+(0,9)$) {xmark};
\pic at ($(wt.north -| vF)+(0,-5)$) {owndot};
\node[lbl, anchor=east] (l10) at ($(wt.north -| vF)+(-9,-9)$) {1};
\node[lbl, anchor=west] (l11) at ($(wt.north -| vF)+(9,-9)$) {-target};

% ClientInvocationBuilder #invocation
\draw[assoc,navarrow] (cib.west |- hE) -- (vG |- hE) -- (ci.south -| vG);
\pic at ($(cib.west |- hE)+(-9,0)$) {xmark};
\pic at ($(ci.south -| vG)+(0,5)$) {owndot};
\node[lbl, anchor=east] (l12) at ($(ci.south -| vG)+(-8,10)$) {\#invocation};
\node[lbl, anchor=west] (l13) at ($(ci.south -| vG)+(8,10)$) {1};

% CompletedFuture nested in ClientInvocation
\draw[assoc] (cf.north -| vD) -- (ci.south -| vD);
\pic at ($(ci.south -| vD)+(0,6)$) {nestplus};

% ClientHttpEngineBuilder4 -that
\draw[assoc,navarrow] (cheb4.south -| vH) -- (rcb.north -| vH);
\pic at ($(cheb4.south -| vH)+(0,9)$) {xmark};
\pic at ($(rcb.north -| vH)+(0,-5)$) {owndot};
\node[lbl, anchor=east] (l14) at ($(rcb.north -| vH)+(-8,-8)$) {1};
\node[lbl, anchor=west] (l15) at ($(rcb.north -| vH)+(8,-8)$) {-that};

% ClientHttpEngineBuilder43 -that
\draw[assoc,navarrow] (cheb43.west |- hF) -- (rcb.east |- hF);
\pic at ($(cheb43.west |- hF)+(-9,0)$) {xmark};
\pic at ($(rcb.east |- hF)+(5,0)$) {owndot};
\node[lbl, anchor=south west] (l16) at ($(rcb.east |- hF)+(6,-3)$) {1};
\node[lbl, anchor=north west] (l17) at ($(rcb.east |- hF)+(14,3)$) {-that};

% realizations of ClientHttpEngineBuilder
\draw[assoc,realize] (cheb4.east |- hG) -- (cheb.west |- hG);
\draw[assoc,realize] (cheb43.north -| vI) -- (cheb.south -| vI);

% AsyncClientHttpEngine extends ClientHttpEngine
\draw[assoc,generalize] (async.west |- hH) -- (che.east |- hH);

% ResultExtractor nested in AsyncClientHttpEngine
\draw[assoc] (re.south -| vJ) -- (async.north -| vJ);
\pic at ($(async.north -| vJ)+(0,-6)$) {nestplus};
\end{tikzpicture}
\end{document}
